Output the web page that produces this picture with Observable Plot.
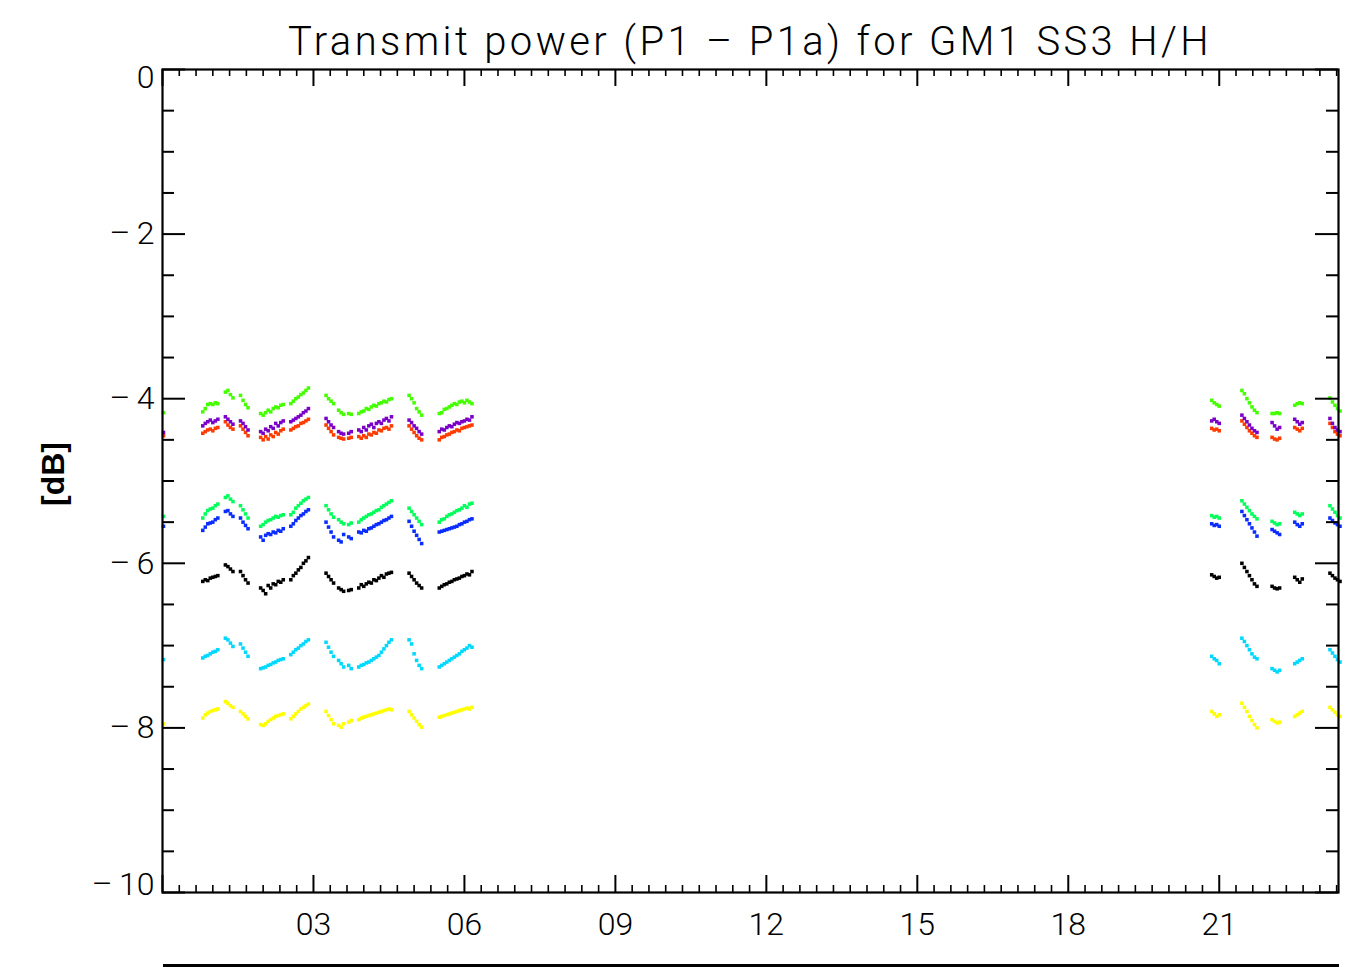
<!DOCTYPE html>
<html>
<head>
<meta charset="utf-8">
<script src="https://cdn.jsdelivr.net/npm/d3@7"></script>
<script src="https://cdn.jsdelivr.net/npm/@observablehq/plot@0.6"></script>
<style>
  html, body { margin: 0; padding: 0; background: #fff; }
  #wrap { position: relative; width: 1351px; height: 967px; overflow: hidden; background: #fff; }
  #title { position: absolute; left: 0; top: 0; width: 1351px; height: 68px; z-index: 2; }
  #title span { position: absolute; top: 22px; white-space: pre; font-family: Roboto, "Liberation Sans", sans-serif; font-weight: 300; font-size: 40px; line-height: 40px; color: #000; }
  #ylab { position: absolute; left: 53px; top: 474px; transform: translate(-50%, -50%) rotate(-90deg); font-family: "Liberation Sans", Arial, sans-serif; font-weight: bold; font-size: 32px; white-space: pre; color: #000; z-index: 3; }
  #bottomline { position: absolute; left: 163px; top: 964px; width: 1176px; height: 3px; background: #000; z-index: 3; }
  #chart { position: absolute; left: 0; top: 68px; z-index: 1; }
</style>
</head>
<body>
<div id="wrap">
  <div id="title"><span id="titletext">Transmit power (P1 – P1a) for GM1 SS3 H/H</span></div>
  <div id="chart"></div>
  <div id="ylab">[dB]</div>
  <div id="bottomline"></div>
</div>
<script>
// ---------------- data ----------------
const hours = [
  0.02,
  0.80, 0.85, 0.90, 0.95, 1.00, 1.05, 1.10,
  1.25, 1.30, 1.35, 1.40,
  1.55, 1.60, 1.65, 1.70,
  1.95, 2.00, 2.05, 2.10, 2.15, 2.20, 2.25, 2.30, 2.35, 2.40,
  2.55, 2.60, 2.65, 2.70, 2.75, 2.80, 2.85, 2.90,
  3.25, 3.30, 3.35, 3.40,
  3.50, 3.55, 3.60, 3.70, 3.75,
  3.90, 3.95, 4.00, 4.05, 4.10, 4.15, 4.20, 4.25, 4.30, 4.35, 4.40, 4.45, 4.50, 4.55,
  4.90, 4.95, 5.00, 5.05, 5.10, 5.15,
  5.50, 5.55, 5.60, 5.65, 5.70, 5.75, 5.80, 5.85, 5.90, 5.95, 6.00, 6.05, 6.10, 6.15,
  20.85, 20.90, 20.95, 21.00,
  21.45, 21.50, 21.55, 21.60, 21.65, 21.70, 21.75,
  22.05, 22.10, 22.15, 22.20,
  22.50, 22.55, 22.60, 22.65,
  23.20, 23.25, 23.30, 23.35, 23.40
];

const greenTop = [
  -4.17,
  -4.16, -4.12, -4.07, -4.06, -4.07, -4.05, -4.06,
  -3.92, -3.90, -3.95, -3.99,
  -3.96, -4.02, -4.07, -4.11,
  -4.18, -4.20, -4.17, -4.14, -4.16, -4.12, -4.10, -4.11, -4.08, -4.07,
  -4.06, -4.03, -4.00, -3.98, -3.95, -3.93, -3.90, -3.87,
  -3.96, -4.00, -4.03, -4.06,
  -4.14, -4.17, -4.19, -4.18, -4.19,
  -4.18, -4.16, -4.15, -4.12, -4.13, -4.10, -4.08, -4.09, -4.06, -4.05, -4.03, -4.04, -4.01, -4.00,
  -3.96, -4.00, -4.05, -4.12, -4.16, -4.20,
  -4.18, -4.17, -4.13, -4.12, -4.10, -4.08, -4.06, -4.07, -4.04, -4.03, -4.05, -4.02, -4.04, -4.06,
  -4.02, -4.05, -4.07, -4.09,
  -3.90, -3.94, -4.00, -4.05, -4.10, -4.14, -4.17,
  -4.18, -4.18, -4.17, -4.18,
  -4.08, -4.06, -4.05, -4.06,
  -3.99, -4.04, -4.08, -4.12, -4.15
];

const purple = [
  -4.41,
  -4.33, -4.30, -4.28, -4.26, -4.29, -4.27, -4.25,
  -4.22, -4.25, -4.28, -4.31,
  -4.27, -4.30, -4.34, -4.38,
  -4.40, -4.42, -4.37, -4.39, -4.34, -4.36, -4.30, -4.33, -4.29, -4.27,
  -4.28, -4.26, -4.24, -4.22, -4.20, -4.17, -4.15, -4.12,
  -4.24, -4.28, -4.32, -4.35,
  -4.40, -4.42, -4.43, -4.42, -4.40,
  -4.38, -4.40, -4.35, -4.38, -4.33, -4.31, -4.35, -4.30, -4.28, -4.30, -4.26, -4.24, -4.27, -4.22,
  -4.26, -4.29, -4.33, -4.36, -4.40, -4.43,
  -4.40, -4.37, -4.38, -4.35, -4.33, -4.34, -4.31, -4.29, -4.30, -4.28, -4.27, -4.25, -4.26, -4.22,
  -4.27, -4.25, -4.28, -4.30,
  -4.20, -4.24, -4.28, -4.32, -4.36, -4.39, -4.41,
  -4.29, -4.33, -4.37, -4.35,
  -4.25, -4.28, -4.31, -4.29,
  -4.24, -4.30, -4.35, -4.38, -4.40
];

const red = [
  -4.45,
  -4.42, -4.40, -4.38, -4.37, -4.39, -4.36, -4.35,
  -4.28, -4.32, -4.35, -4.37,
  -4.33, -4.37, -4.41, -4.45,
  -4.47, -4.50, -4.46, -4.49, -4.44, -4.46, -4.41, -4.43, -4.39, -4.37,
  -4.38, -4.36, -4.34, -4.33, -4.30, -4.29, -4.27, -4.25,
  -4.32, -4.36, -4.40, -4.44,
  -4.47, -4.48, -4.49, -4.48, -4.47,
  -4.46, -4.48, -4.45, -4.47, -4.43, -4.44, -4.41, -4.42, -4.38, -4.39, -4.36, -4.35, -4.37, -4.33,
  -4.33, -4.37, -4.41, -4.45, -4.48, -4.50,
  -4.50, -4.47, -4.46, -4.44, -4.43, -4.41, -4.40, -4.38, -4.39, -4.36, -4.35, -4.34, -4.33, -4.32,
  -4.36, -4.38, -4.37, -4.39,
  -4.27, -4.31, -4.35, -4.39, -4.42, -4.45, -4.47,
  -4.47, -4.49, -4.50, -4.48,
  -4.35, -4.37, -4.39, -4.36,
  -4.30, -4.35, -4.40, -4.43, -4.45
];

const springGreen = [
  -5.43,
  -5.45, -5.40, -5.36, -5.34, -5.33, -5.30, -5.28,
  -5.20, -5.18, -5.22, -5.25,
  -5.30, -5.35, -5.40, -5.45,
  -5.55, -5.53, -5.50, -5.48, -5.47, -5.45, -5.43, -5.44, -5.42, -5.41,
  -5.41, -5.38, -5.33, -5.30, -5.27, -5.24, -5.22, -5.20,
  -5.30, -5.35, -5.40, -5.44,
  -5.47, -5.50, -5.52, -5.53, -5.51,
  -5.50, -5.47, -5.45, -5.43, -5.41, -5.40, -5.38, -5.36, -5.35, -5.32, -5.30, -5.28, -5.26, -5.24,
  -5.33, -5.37, -5.41, -5.45, -5.49, -5.53,
  -5.50, -5.47, -5.46, -5.43, -5.41, -5.40, -5.38, -5.36, -5.35, -5.33, -5.30, -5.32, -5.28, -5.27,
  -5.42, -5.44, -5.43, -5.45,
  -5.24, -5.28, -5.32, -5.36, -5.40, -5.43, -5.46,
  -5.49, -5.51, -5.53, -5.52,
  -5.38, -5.40, -5.42, -5.40,
  -5.30, -5.34, -5.38, -5.42, -5.45
];

const blue = [
  -5.55,
  -5.60, -5.56, -5.52, -5.51, -5.50, -5.47, -5.45,
  -5.37, -5.36, -5.40, -5.43,
  -5.45, -5.50, -5.54, -5.58,
  -5.68, -5.72, -5.66, -5.64, -5.65, -5.62, -5.63, -5.60, -5.61, -5.58,
  -5.55, -5.52, -5.48, -5.45, -5.42, -5.40, -5.37, -5.35,
  -5.50, -5.56, -5.62, -5.68,
  -5.72, -5.74, -5.65, -5.68, -5.70,
  -5.62, -5.63, -5.60, -5.61, -5.58, -5.57, -5.55, -5.53, -5.52, -5.50, -5.48, -5.47, -5.45, -5.43,
  -5.49, -5.55, -5.61, -5.66, -5.71, -5.76,
  -5.62, -5.61, -5.60, -5.59, -5.58, -5.57, -5.56, -5.55, -5.53, -5.52, -5.50, -5.49, -5.47, -5.46,
  -5.52, -5.54, -5.53, -5.55,
  -5.37, -5.42, -5.47, -5.52, -5.57, -5.62, -5.67,
  -5.59, -5.61, -5.63, -5.65,
  -5.50, -5.53, -5.55, -5.52,
  -5.45, -5.48, -5.51, -5.53, -5.55
];

const black = [
  null,
  -6.22, -6.20, -6.21, -6.18, -6.17, -6.16, -6.15,
  -6.02, -6.04, -6.07, -6.10,
  -6.10, -6.15, -6.20, -6.24,
  -6.30, -6.33, -6.37, -6.27, -6.30, -6.25, -6.26, -6.22, -6.23, -6.20,
  -6.20, -6.15, -6.12, -6.08, -6.05, -6.00, -5.97, -5.93,
  -6.12, -6.16, -6.20, -6.24,
  -6.30, -6.32, -6.34, -6.33, -6.32,
  -6.30, -6.26, -6.28, -6.25, -6.23, -6.24, -6.20, -6.21, -6.18, -6.15, -6.17, -6.13, -6.12, -6.11,
  -6.12, -6.16, -6.20, -6.24, -6.27, -6.30,
  -6.30, -6.28, -6.26, -6.25, -6.23, -6.22, -6.20, -6.19, -6.18, -6.16, -6.15, -6.13, -6.14, -6.10,
  -6.14, -6.16, -6.18, -6.17,
  -6.00, -6.05, -6.10, -6.15, -6.20, -6.25, -6.28,
  -6.28, -6.30, -6.31, -6.30,
  -6.17, -6.20, -6.23, -6.19,
  -6.12, -6.15, -6.18, -6.20, -6.22
];

const cyan = [
  -7.17,
  -7.15, -7.13, -7.12, -7.10, -7.08, -7.07, -7.05,
  -6.91, -6.93, -6.97, -7.01,
  -6.98, -7.03, -7.08, -7.13,
  -7.28, -7.27, -7.26, -7.24, -7.23, -7.21, -7.20, -7.18, -7.17, -7.16,
  -7.11, -7.08, -7.05, -7.03, -7.00, -6.98, -6.95, -6.93,
  -6.96, -7.02, -7.08, -7.13,
  -7.18, -7.22, -7.26, -7.24, -7.28,
  -7.26, -7.24, -7.23, -7.21, -7.20, -7.18, -7.16, -7.14, -7.12, -7.08, -7.04, -7.00, -6.96, -6.93,
  -6.93, -6.98, -7.10, -7.18, -7.24, -7.28,
  -7.26, -7.24, -7.22, -7.20, -7.18, -7.16, -7.14, -7.12, -7.10, -7.07, -7.05, -7.03, -7.00, -7.02,
  -7.13, -7.16, -7.18, -7.22,
  -6.91, -6.95, -7.00, -7.05, -7.10, -7.14, -7.16,
  -7.28, -7.30, -7.32, -7.30,
  -7.22, -7.20, -7.18, -7.16,
  -7.05, -7.09, -7.13, -7.17, -7.20
];

const yellow = [
  -7.95,
  -7.88, -7.84, -7.82, -7.80, -7.79, -7.78, -7.77,
  -7.68, -7.70, -7.73, -7.75,
  -7.80, -7.83, -7.86, -7.89,
  -7.96, -7.97, -7.95, -7.92, -7.90, -7.88, -7.86, -7.85, -7.84, -7.83,
  -7.89, -7.86, -7.83, -7.80, -7.77, -7.75, -7.73, -7.71,
  -7.80, -7.85, -7.90, -7.95,
  -7.97, -7.99, -7.95, -7.93, -7.91,
  -7.90, -7.88, -7.87, -7.86, -7.85, -7.84, -7.83, -7.82, -7.81, -7.80, -7.79, -7.78, -7.77, -7.78,
  -7.80, -7.84, -7.88, -7.92, -7.96, -7.99,
  -7.87, -7.86, -7.85, -7.84, -7.83, -7.82, -7.81, -7.80, -7.79, -7.78, -7.77, -7.76, -7.77, -7.75,
  -7.80, -7.83, -7.86, -7.84,
  -7.70, -7.75, -7.80, -7.86, -7.91, -7.96, -8.00,
  -7.90, -7.92, -7.94, -7.93,
  -7.86, -7.84, -7.82, -7.80,
  -7.75, -7.78, -7.81, -7.84, -7.86
];

const seriesNames = ["yellow", "cyan", "black", "blue", "springGreen", "red", "purple", "greenTop"];
const seriesValues = [yellow, cyan, black, blue, springGreen, red, purple, greenTop];
const seriesColors = ["#ffff00", "#00d8ff", "#000000", "#0a2cff", "#00ff5a", "#ff3c00", "#7a00c8", "#44ff00"];

const xMajorTicks = [0, 3, 6, 9, 12, 15, 18, 21];
const xLabelTicks = [3, 6, 9, 12, 15, 18, 21];
const xMinorTicks = d3.range(0, 71).map(k => k / 3).filter(v => Math.abs(v / 3 - Math.round(v / 3)) > 1e-6);
const yMajorTicks = [-10, -8, -6, -4, -2, 0];
const yInnerLabelTicks = [-8, -6, -4, -2];
const yMinorTicks = d3.range(-20, 1).map(k => k / 2).filter(v => v % 2 !== 0);

// ---------------- build ----------------
const rows = [];
seriesValues.forEach((vals, i) => {
  vals.forEach((v, j) => {
    if (v != null) rows.push({h: hours[j], v, s: seriesNames[i]});
  });
});

const W = 1351, H = 899;
const mL = 162, mR = 13, mT = 1, mB = 75;
const fw = W - mL - mR, fh = H - mT - mB;
const yFmt = d => d === 0 ? "0" : "\u2013\u2009" + Math.abs(d);
const axisFont = {fontSize: 32, fontWeight: 300};

const plot = Plot.plot({
  width: W,
  height: H,
  marginLeft: mL,
  marginRight: mR,
  marginTop: mT,
  marginBottom: mB,
  style: {fontFamily: "Roboto, 'Liberation Sans', sans-serif", background: "#fff", overflow: "visible"},
  x: {domain: [0, 23.37], axis: null},
  y: {domain: [-10, 0], axis: null},
  color: {domain: seriesNames, range: seriesColors},
  marks: [
    Plot.dot(rows, {x: "h", y: "v", fill: "s", symbol: "square", r: 2.0, stroke: null}),
    // x ticks bottom & top (inward)
    Plot.tickX(xMajorTicks, {x: d => d, insetTop: fh - 17, stroke: "#000", strokeWidth: 2}),
    Plot.tickX(xMinorTicks, {x: d => d, insetTop: fh - 7, stroke: "#000", strokeWidth: 1.6}),
    Plot.tickX(xMajorTicks, {x: d => d, insetBottom: fh - 17, stroke: "#000", strokeWidth: 2}),
    Plot.tickX(xMinorTicks, {x: d => d, insetBottom: fh - 7, stroke: "#000", strokeWidth: 1.6}),
    // y ticks left & right (inward)
    Plot.tickY(yMajorTicks, {y: d => d, insetRight: fw - 23, stroke: "#000", strokeWidth: 2}),
    Plot.tickY(yMinorTicks, {y: d => d, insetRight: fw - 12, stroke: "#000", strokeWidth: 2}),
    Plot.tickY(yMajorTicks, {y: d => d, insetLeft: fw - 23, stroke: "#000", strokeWidth: 2}),
    Plot.tickY(yMinorTicks, {y: d => d, insetLeft: fw - 12, stroke: "#000", strokeWidth: 2}),
    Plot.frame({stroke: "#000", strokeWidth: 2.2}),
    Plot.axisX({ticks: xLabelTicks, tickSize: 0, tickPadding: 20, ...axisFont,
      tickFormat: d => String(d).padStart(2, "0"), label: null}),
    Plot.axisY({ticks: yInnerLabelTicks, tickSize: 0, tickPadding: 8, ...axisFont, tickFormat: yFmt, label: null}),
    Plot.axisY({ticks: [0], tickSize: 0, tickPadding: 8, dy: 8, ...axisFont, tickFormat: yFmt, label: null}),
    Plot.axisY({ticks: [-10], tickSize: 0, tickPadding: 8, dy: -8, ...axisFont, tickFormat: yFmt, label: null})
  ]
});
document.getElementById("chart").appendChild(plot);

// fit the title to the reference width, centred on the frame
const t = document.getElementById("titletext");
const targetW = 924;
const n = t.textContent.length;
const w0 = t.getBoundingClientRect().width;
t.style.letterSpacing = ((targetW - w0) / n) + "px";
const w1 = t.getBoundingClientRect().width;
t.style.left = ((mL + (W - mR)) / 2 - w1 / 2) + "px";
</script>
</body>
</html>
